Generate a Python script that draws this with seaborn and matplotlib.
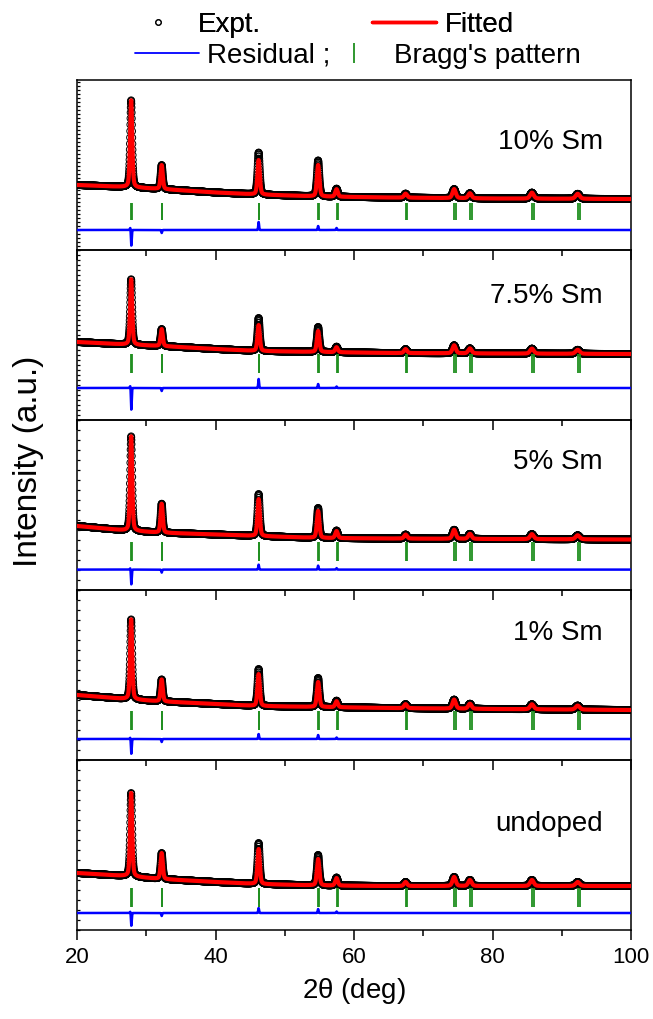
import numpy as np
import pandas as pd
import matplotlib
matplotlib.use("Agg")
import matplotlib.pyplot as plt
import seaborn as sns
from matplotlib.lines import Line2D
from matplotlib.ticker import MultipleLocator

# ---------------- data ----------------
panel_labels = ["10% Sm", "7.5% Sm", "5% Sm", "1% Sm", "undoped"]

# reflection positions (2theta, deg), K-alpha1 and K-alpha2
peak_pos = [27.82, 32.23, 46.23, 54.82, 57.48, 67.45, 74.46, 76.74, 85.69, 92.30]
peak_fwhm = [0.36, 0.37, 0.40, 0.42, 0.44, 0.50, 0.55, 0.56, 0.62, 0.68]
bragg_ka2 = [27.89, 32.31, 46.34, 54.96, 57.63, 67.64, 74.68, 76.98, 85.95, 92.60]

# background anchor points (same x for every panel)
bg_x = [20, 27, 32, 40, 46, 55, 65, 80, 100]
bg_10 = [65, 63, 61, 57.5, 55.5, 53.5, 52.5, 51.5, 51]
bg_75 = [78, 75.5, 74, 71, 69, 68, 67, 66.5, 66]
bg_5 = [64, 59.5, 57.3, 55.5, 54, 52, 51.5, 51, 50.5]
bg_1 = [65, 61, 58.6, 56, 54, 53, 52, 51, 50]
bg_0 = [57, 54, 51, 48, 46, 44.5, 44, 44, 44]

# fitted peak heights above background
h_10 = [87, 24, 34.5, 31.5, 7.5, 4, 9, 5, 6, 5]
h_75 = [65.5, 17, 26, 21, 5, 4, 8, 5, 5, 4]
h_5 = [94.5, 29, 37, 27, 7, 4, 9, 5, 5, 4]
h_1 = [80, 22, 32, 25, 6, 4, 9, 5, 5, 4]
h_0 = [83.5, 26, 35, 26.5, 7.5, 4, 9, 6, 6, 4]

# observed (Expt.) peak heights above background
o_10 = [87, 24, 42, 36, 8, 4, 9, 5, 6, 5]
o_75 = [65.5, 17, 33, 25, 5.5, 4, 8, 5, 5, 4]
o_5 = [94.5, 29, 42, 30, 7.5, 4, 9, 5, 5, 4]
o_1 = [80, 22, 37, 29, 6.5, 4, 9, 5, 5, 4]
o_0 = [83.5, 26, 41, 30.5, 8, 4, 9, 6, 6, 4]

# residual features (obs - calc)
res_pos = [27.72, 27.84, 32.23, 46.23, 54.82, 57.48]
res_10 = [3, -16, -3, 8, 4, 2]
res_75 = [3, -22, -3, 9, 4, 1.5]
res_5 = [2, -15, -3, 5, 4, 1.5]
res_1 = [2, -15, -3, 5, 4, 1.5]
res_0 = [2, -13, -3, 5, 4, 1.5]
res_base = [20, 32, 20.4, 21, 17]

# Bragg tick vertical extent per panel
bragg_lo = [30, 47, 29, 30, 23]
bragg_hi = [47, 66, 48, 49, 42]

# left-axis tick spacing per panel
ytick_step = [4, 5, 10, 10, 10]

label_y = [0.635, 0.73, 0.753, 0.747, 0.624]

backgrounds = [bg_10, bg_75, bg_5, bg_1, bg_0]
heights = [h_10, h_75, h_5, h_1, h_0]
obs_heights = [o_10, o_75, o_5, o_1, o_0]
residuals = [res_10, res_75, res_5, res_1, res_0]

# ---------------- style ----------------
sns.set_theme(style="ticks")
plt.rcParams["font.family"] = ["Liberation Sans", "DejaVu Sans"]
plt.rcParams["mathtext.fontset"] = "custom"
plt.rcParams["mathtext.rm"] = "Liberation Sans"
plt.rcParams["mathtext.it"] = "Liberation Sans"
for k in ["text.color", "axes.labelcolor", "xtick.color", "ytick.color", "axes.edgecolor"]:
    plt.rcParams[k] = "black"

W, H = 653, 1019
fig = plt.figure(figsize=(W / 100, H / 100), dpi=100, facecolor="white")
left, right = 77 / W, 631 / W
bottom, top = 1 - 930 / H, 1 - 80 / H
gs = fig.add_gridspec(5, 1, left=left, right=right, bottom=bottom, top=top, hspace=0)

x = np.round(np.arange(20, 100.0001, 0.01), 3)


def profile(xx, pos, hts, fwhm, eta=0.35):
    y = np.zeros_like(xx)
    for c, h, w in zip(pos, hts, fwhm):
        d = (xx - c) / w
        y += h * (eta / (1 + 4 * d ** 2) + (1 - eta) * np.exp(-4 * np.log(2) * d ** 2))
    return y


def res_profile(xx, pos, amps, sig=0.06):
    y = np.zeros_like(xx)
    for c, a in zip(pos, amps):
        y += a * np.exp(-0.5 * ((xx - c) / sig) ** 2)
    return y


axes = []
for i in range(5):
    ax = fig.add_subplot(gs[i, 0])
    ax.set_facecolor("none")
    axes.append(ax)
    bg = np.interp(x, bg_x, backgrounds[i])
    calc = bg + profile(x, peak_pos, heights[i], peak_fwhm)
    obs = bg + profile(x, peak_pos, obs_heights[i], peak_fwhm)
    diff = res_profile(x, res_pos, residuals[i])
    df = pd.DataFrame({"x": x, "calc": calc, "obs": obs, "res": res_base[i] + diff})

    sns.scatterplot(data=df.iloc[::2], x="x", y="obs", ax=ax, marker="o", s=24,
                    facecolors="none", edgecolor="black", linewidth=0.7,
                    legend=False, zorder=2)
    sns.lineplot(data=df, x="x", y="calc", ax=ax, color="#ff0000", lw=3.0,
                 legend=False, zorder=3, estimator=None)
    sns.lineplot(data=df, x="x", y="res", ax=ax, color="#0000ff", lw=1.8,
                 legend=False, zorder=3, estimator=None)
    ax.vlines(peak_pos, bragg_lo[i], bragg_hi[i], color="#1f8f1f", lw=1.3, zorder=3)
    ax.vlines(bragg_ka2, bragg_lo[i], bragg_hi[i], color="#1f8f1f", lw=1.3, zorder=3)

    ax.set_xlim(20, 100)
    ax.set_ylim(0, 170)
    ax.set_xlabel("")
    ax.set_ylabel("")
    ax.xaxis.set_major_locator(MultipleLocator(20))
    ax.xaxis.set_minor_locator(MultipleLocator(10))
    ax.yaxis.set_major_locator(MultipleLocator(ytick_step[i]))
    ax.tick_params(axis="x", which="major", direction="out", length=7, width=1.1,
                   labelsize=16, colors="black", pad=5)
    ax.tick_params(axis="x", which="minor", direction="out", length=4, width=1.1)
    ax.tick_params(axis="y", which="major", direction="in", length=2.2, width=0.9,
                   labelleft=False)
    if i < 4:
        ax.tick_params(axis="x", labelbottom=False)
    for sp in ax.spines.values():
        sp.set_linewidth(1.1)
        sp.set_color("black")
        sp.set_visible(True)
    ax.text(0.9495, label_y[i], panel_labels[i], transform=ax.transAxes,
            ha="right", va="center", fontsize=20, color="black")

axes[-1].set_xlabel(r"2$\theta$ (deg)", fontsize=20, labelpad=6, color="black")
fig.text(29 / W, 1 - 461 / H, "Intensity (a.u.)", rotation=90, fontsize=24,
         ha="center", va="center", color="black")

# ---------------- legend (two rows) ----------------
h_expt = Line2D([], [], marker="o", ls="none", mfc="none", mec="black", ms=4, mew=0.8)
h_fit = Line2D([], [], color="#ff0000", lw=2.5)
h_res = Line2D([], [], color="#0000ff", lw=1.3)
h_bragg = Line2D([], [], marker="|", ls="none", color="#1f8f1f", ms=14, mew=1.3)

leg1 = fig.legend([h_expt, h_fit], ["Expt.", "Fitted"], loc="center left",
                  bbox_to_anchor=(126 / W, 1 - 25 / H), ncol=2, frameon=False,
                  fontsize=20, handlelength=2.3, handletextpad=0.3,
                  columnspacing=4.0, borderpad=0, borderaxespad=0)
leg2 = fig.legend([h_res, h_bragg], ["Residual ;", "Bragg's pattern"], loc="center left",
                  bbox_to_anchor=(135 / W, 1 - 56 / H), ncol=2, frameon=False,
                  fontsize=20, handlelength=2.3, handletextpad=0.3,
                  columnspacing=-0.3, borderpad=0, borderaxespad=0)
fig.add_artist(leg1)

fig.savefig("out.png", dpi=100, facecolor="white")
